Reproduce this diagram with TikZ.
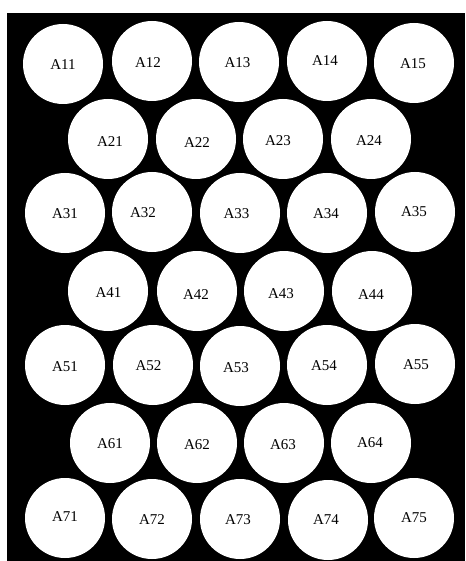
\documentclass[tikz,border=0pt]{standalone}
\usepackage{fontspec}
\setmainfont{Liberation Serif}
\begin{document}
\begin{tikzpicture}[x=1pt,y=-1pt,
  cell/.style={circle,fill=white,draw=none,minimum size=80pt,inner sep=0pt},
  lab/.style={inner sep=0pt,font=\fontsize{15}{15}\selectfont,text=black}]
\useasboundingbox (0,0) rectangle (465,561);
\fill[white] (0,0) rectangle (465,561);
\fill[black] (7,13) rectangle (465,561);
% circles
\foreach \n/\x/\y in {
  11/63/64, 12/152/61, 13/239/62, 14/327/61, 15/414/63,
  21/108/139, 22/196/139, 23/283/139, 24/371/139,
  31/65/213, 32/152/212, 33/240/213, 34/327/213, 35/415/212,
  41/108/291, 42/197/291, 43/284/291, 44/372/291,
  51/65/365, 52/153/365, 53/240/366, 54/327/365, 55/415/364,
  61/110/443, 62/197/443, 63/284/443, 64/371/443,
  71/65/518, 72/152/519, 73/240/519, 74/328/520, 75/414/518}
  \node[cell] (c\n) at (\x,\y) {};
% labels
\foreach \n/\x/\y in {
  11/63/65, 12/148/62.5, 13/237.5/62.5, 14/325/61, 15/413/64,
  21/110/142, 22/197/143, 23/278/140.5, 24/369/140.5,
  31/65/214, 32/143/212.5, 33/236.5/213.5, 34/326/214, 35/414/212,
  41/108.5/293, 42/196/295, 43/281/294, 44/371/295,
  51/65/367, 52/148.5/366, 53/236/367.5, 54/324/366, 55/416/365,
  61/110/444, 62/197/445, 63/283/445, 64/370/443,
  71/65/517, 72/152/520, 73/238/520, 74/326/519.5, 75/414/518}
  \node[lab] (t\n) at (\x,\y) {A\n};
\end{tikzpicture}
\end{document}
